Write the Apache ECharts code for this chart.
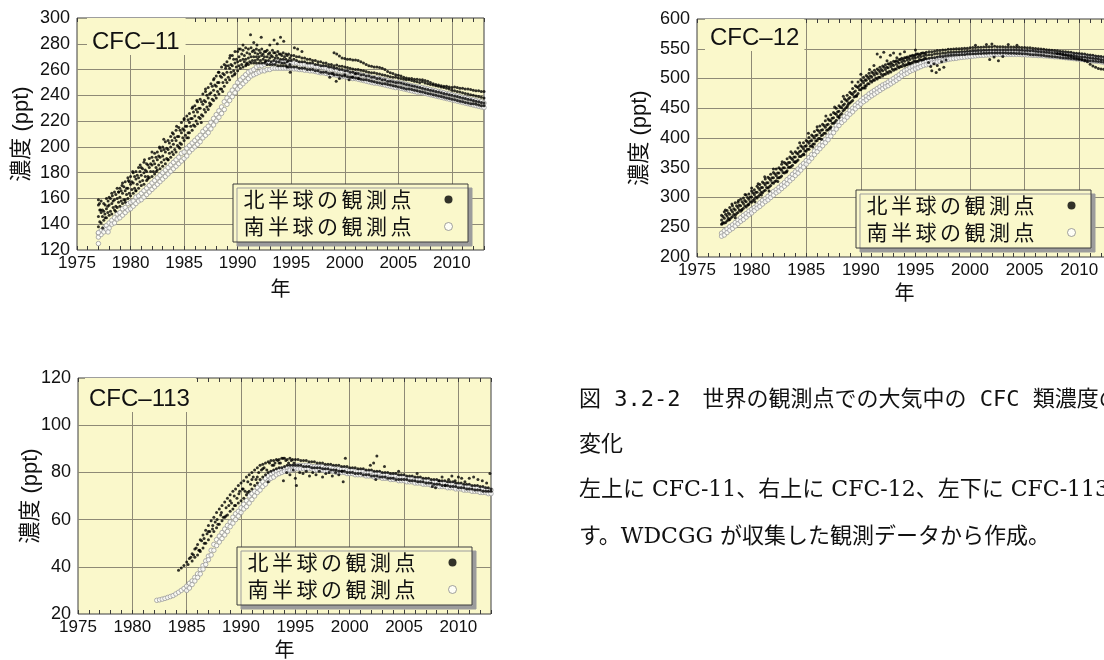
<!DOCTYPE html>
<html>
<head>
<meta charset="utf-8">
<script src="https://cdn.jsdelivr.net/npm/echarts@6/dist/echarts.min.js"></script>
<style>
  html, body { margin: 0; padding: 0; background: #ffffff; }
  #main { width: 1104px; height: 660px; }
</style>
</head>
<body>
<div id="main"></div>
<script>
// ---- Series names, axis ranges and caption text ----
const NH = '北半球の観測点';
const SH = '南半球の観測点';
const yearRange = [1975, 2013];          // x axis: min, max
const yearLabelStep = 5;                 // labelled years every 5
const cfc11Axis = [120, 300, 20];        // y: min, max, interval
const cfc12Axis = [200, 600, 50];
const cfc113Axis = [20, 120, 20];
const panelTitles = ['CFC–11', 'CFC–12', 'CFC–113'];
const yAxisName = '濃度 (ppt)';
const xAxisName = '年';
const captionLines = [
  '図 3.2-2　世界の観測点での大気中の CFC 類濃度の',
  '変化',
  '左上に CFC-11、右上に CFC-12、左下に CFC-113 を示しま',
  'す。WDCGG が収集した観測データから作成。'
];

// ---- CFC-11 (ppt): quarterly records, each with its start year ----
const cfc11_t0 = 1977.0;
const cfc11_nh_upper = [
  155,158,156,160, 161,164,165,168, 168,172,173,176, 177,180,181,184,
  184,188,187,191, 192,195,196,199, 200,204,205,208, 210,213,215,219,
  221,224,226,230, 232,235,237,241, 243,246,249,252, 255,258,262,264,
  266,269,271,274, 274,276,275,277, 276,277,275,276, 275,276,274,275,
  273,275,273,274, 272,273,272,272, 271,271,270,270, 269,269,268,268,
  267,267,266,266, 265,265,264,264, 263,263.5,262.5,262.5, 262,261.5,261,260.5,
  260,260,259.5,259, 258.5,258,257.5,257.5, 257,256.5,256,255.5, 255,254.5,254,254,
  253.5,253,252.5,252, 252,251.5,251,250.5, 250,250.5,249.5,249, 248.5,248,247.5,247,
  246.5,246,245.5,245, 244,243.5,243,242.5, 242,241.5,241,240.5, 240,239.5,239,238.5,
  238
];
const cfc11_nh_mid = [
  146,149,150,152, 155,156,159,160, 161,164,166,168, 171,172,175,176,
  178,180,181,184, 186,187,190,192, 193,196,198,200, 202,205,208,211,
  213,216,219,222, 224,227,230,233, 235,238,242,244, 247,250,254,256,
  258,261,263,265, 266,267,268,268, 269,270,270,270, 270,271,270,270,
  269,270,269,269, 268,268,268,267, 267,268,267,266, 266,266,265,265,
  265,264,264,263, 263,263,262,262, 261,261,260,260, 259,259,258,258,
  257,257,256,256, 255,255,254,254, 253,253,252,252, 251,251,250.5,250,
  250,249.5,249,248.5, 248,247.5,247,246.5, 246,245.5,245,244.5, 244,243.5,243,242.5,
  242,241.5,241,240.5, 240,239.5,239,238.5, 238,237.5,237,236.5, 236,235.5,235,234.5,
  234
];
const cfc11_nh_low = [
  138,141,143,145, 147,148,151,153, 154,156,159,160, 162,164,166,168,
  170,171,174,176, 177,179,182,183, 185,187,190,192, 194,196,200,202,
  205,207,211,213, 216,218,222,224, 227,229,233,236, 238,241,245,247,
  250,252,255,257, 259,261,262,263, 264,265,265,265, 265,265,265,264,
  264,264,264,263, 263,263,263,262, 262,262,262,261, 261,261,260,260,
  260,259,259,258, 258,258,257,257, 256,256,255.5,255, 255,254.5,254,254,
  253.5,253,252.5,252, 252,251.5,251,250.5, 250,249.5,249,249, 248.5,248,247.5,247,
  246.5,246,245.5,245, 245,244.5,244,243.5, 243,242.5,242,241.5, 241,240.5,240,239.5,
  239,238.5,238,237.5, 237,236.5,236,235.5, 235,234.5,234,233.5, 233.5,233,232.5,232,
  232
];
// flask stations sampled between the continuous records (1977-1995)
const cfc11_flask_t0 = 1977.125;
const cfc11_nh_flask_a = [
  151,151,155,154, 160,158,163,165, 166,169,168,173, 173,177,178,181,
  183,182,186,187, 189,192,193,197, 198,199,203,205, 207,208,213,214,
  216,221,222,227, 229,230,235,236, 240,241,247,248, 250,255,257,261,
  263,264,268,268, 270,272,271,273, 272,274,273,272, 273,272,274,272,
  271,273,271,272, 271,270,271,269
];
const cfc11_nh_flask_b = [
  142,146,145,149, 150,153,154,157, 158,159,163,164, 167,168,171,173,
  174,177,177,181, 181,184,186,188, 190,191,195,196, 198,201,203,207,
  209,211,216,217, 220,223,225,229, 231,234,237,240, 243,245,250,252,
  254,258,259,262, 263,264,266,265, 266,267,267,268, 267,268,267,267,
  266,267,266,266, 265,265,266,264
];
const cfc11_line_t0 = 1999.0;
const cfc11_nh_line = [
  273,272,270.5,269, 268.5,268,268,267.5, 267.5,267,266,265, 264,263,262.5,262,
  262,261.5,261,260, 258.5,257.5,257,256, 255.5,255,254,253.5, 253,253,252.5,252.5,
  252,252,251.5,251, 250,249,248.5,248, 247.5,247,247,246.5, 246,246.5,246,245.5,
  245.5,245,245,244.5, 244,243.5,243.5,243, 243
];
const cfc11_nh_scatter = [
  [1977.0,159],[1977.1,156],[1977.2,151],[1977.4,137],[1977.6,148],[1977.9,158],
  [1978.3,162],[1978.6,150],[1978.9,165],[1979.2,170],[1979.5,157],[1979.8,174],
  [1980.2,181],[1980.5,166],[1980.9,186],[1981.3,190],[1981.6,175],[1982.0,196],
  [1982.4,181],[1982.7,200],[1983.1,206],[1983.5,190],[1983.9,211],[1984.3,216],
  [1984.6,199],[1985.0,222],[1985.4,207],[1985.8,231],[1986.2,236],[1986.6,219],
  [1987.0,245],[1987.4,232],[1987.8,253],[1988.2,258],[1988.6,243],[1988.9,263],
  [1989.3,271],[1989.7,256],[1990.1,276],[1990.5,279],[1990.8,264],[1991.2,287],
  [1991.5,281],[1991.8,279],[1992.2,285],[1992.6,266],[1993.0,279],[1993.4,283],
  [1993.7,280],[1994.0,285],[1994.3,282],[1994.6,262],[1994.9,258],[1995.3,277],
  [1995.6,276],[1996.0,274],[1998.6,254],[1998.9,257],[1999.2,251],[1999.5,253],
  [2000.0,256],[2000.4,252],[2000.7,254],[2001.0,257],[2001.3,253]
];
const cfc11_sh_upper = [
  133,135,137,139, 141,143,145,148, 149,152,153,156, 157,158,161,162,
  164,166,168,170, 172,174,176,178, 180,182,184,186, 188,190,192,195,
  196,199,201,203, 205,207,209,212, 214,216,219,222, 225,228,231,235,
  238,241,244,247, 250,252,254,256, 258,259,260,262, 263,263,264,265,
  265,265,266,266, 266,266,266,265, 265,265,265,264.5, 264,264,263.5,263,
  263,262.5,262,262, 261.5,261,260.5,260, 260,259.5,259,258.5, 258.5,258,257.5,257,
  257,256.5,256,255.5, 255,254.5,254,253.5, 253.5,253,252.5,252, 251.5,251,250.5,250,
  250,249.5,249,248.5, 248,247.5,247,246.5, 246.5,246,245.5,245, 244.5,244,243.5,243,
  242.5,242,241.5,241, 240.5,240,239.5,239, 238.5,238,237.5,237, 236.5,236,235.5,235,
  234
];
const cfc11_sh_low = [
  130,132,134,136, 137,140,141,144, 145,147,149,151, 152,154,156,158,
  159,161,163,165, 167,169,171,173, 175,177,179,181, 183,185,187,189,
  191,193,196,198, 200,202,204,207, 209,211,214,217, 220,223,226,229,
  233,236,239,242, 245,247,249,251, 253,255,256,257, 258,259,259,260,
  260,261,261,261, 261,261,261,261, 261,260.5,260.5,260, 260,259.5,259.5,259,
  259,258.5,258,257.5, 257.5,257,256.5,256, 256,255.5,255,254.5, 254.5,254,253.5,253,
  253,252.5,252,251.5, 251,250.5,250,249.5, 249.5,249,248.5,248, 247.5,247,246.5,246,
  246,245.5,245,244.5, 244,243.5,243,242.5, 242.5,242,241.5,241, 240.5,240,239.5,239,
  238.5,238,237.5,237, 236.5,236,235.5,235, 234.5,234,233.5,233, 232.5,232,231.5,231,
  230.5
];
const cfc11_sh_scatter = [[1977.0,125],[1977.0,133.5],[1977.9,134]];

// ---- CFC-12 (ppt) ----
const cfc12_t0 = 1977.25;
const cfc12_nh_upper = [
  270,276,278, 283,286,291,292, 297,299,304,306, 311,313,319,322,
  326,331,334,339, 342,348,350,356, 359,365,368,374, 377,383,387,392,
  396,401,405,411, 414,420,423,429, 432,439,443,450, 454,461,466,472,
  477,483,488,494, 498,502,505,509, 511,514,516,519, 521,523,525,527,
  529,530,532,534, 535,536,538,539, 540,541,542,543, 544,545,545,546,
  547,547,548,548, 549,549,549.5,550, 550,550.5,551,551, 551.5,552,552,552.5,
  552.5,553,553,553.5, 553.5,554,553.5,553.5, 553.5,553,553,553, 553,552.5,552.5,552,
  552,551.5,551.5,551, 550.5,550,549.5,549, 548.5,548,547.5,547, 546.5,546,545.5,545,
  544.5,544,543,542.5, 542,541.5,541,540, 539.5,539,538,537.5, 537,536,535.5,535,
  534.5
];
const cfc12_nh_mid = [
  262,265,269, 272,276,279,283, 286,290,293,297, 301,305,309,313,
  317,321,325,329, 333,337,341,346, 350,355,359,364, 368,373,378,382,
  387,391,396,400, 405,409,414,418, 423,429,434,440, 445,451,457,462,
  468,473,479,485, 490,493,497,500, 503,506,508,511, 513,515,518,520,
  522,524,526,528, 529,531,532,534, 535,536,537,538, 539,540,540,541,
  542,542,543,543, 544,544,544.5,545, 545,545.5,545.5,546, 546,546.5,546.5,547,
  547,547.5,547.5,548, 548,548,548,548, 548,548,548,548, 548,548,547.5,547.5,
  547,547,546.5,546.5, 546,545.5,545,544.5, 544,543.5,543,542.5, 542,541.5,541,540.5,
  540,539,538.5,538, 537,536.5,536,535.5, 535,534,533.5,533, 532,531.5,531,530.5,
  530
];
const cfc12_nh_low = [
  255,257,261, 263,268,270,275, 277,282,284,289, 292,297,299,305,
  308,312,316,320, 324,328,333,336, 341,345,351,354, 359,363,369,373,
  378,381,387,390, 396,399,405,408, 414,419,425,430, 436,441,448,452,
  459,463,470,475, 481,484,488,491, 494,497,499,502, 504,507,509,511,
  514,516,518,520, 521,523,525,527, 528,529,531,532, 533,534,535,535,
  536,537,537,538, 538.5,539,539.5,540, 540,540.5,540.5,541, 541,541.5,541.5,542,
  542,542.5,542.5,543, 543,543,543,543, 543,543,542.5,542.5, 542.5,542,542,541.5,
  541.5,541,540.5,540, 540,539.5,539,538.5, 538,537.5,537,536.5, 536,535.5,535,534.5,
  534,533.5,533,532.5, 532,531.5,531,530.5, 530,529.5,529,528.5, 528,527.5,527,526.5,
  526
];
const cfc12_flask_t0 = 1977.375;
const cfc12_nh_flask_a = [
  268,272,274, 279,281,286,287, 293,295,300,301, 308,309,316,317,
  324,325,332,333, 340,341,348,350, 357,359,366,368, 375,377,385,386,
  394,395,403,404, 412,413,421,422, 430,433,441,444, 452,455,464,466,
  475,477,486,488, 496,497,503,504, 509,510,514,515, 519,519,524,524,
  528,528,532,532, 535,535,538,538, 541,540,543,542
];
const cfc12_nh_flask_b = [
  258,258,265, 266,272,273,279, 280,286,287,293, 295,301,302,309,
  311,317,318,325, 327,333,334,342, 343,351,352,360, 361,369,371,378,
  381,386,390,395, 399,404,408,413, 416,425,427,436, 439,446,451,458,
  461,469,472,481, 484,488,491,496, 497,501,502,507, 507,511,512,516,
  516,520,520,524, 523,527,526,530, 529,532,531,534
];
const cfc12_line_t0 = 2008.0;
const cfc12_nh_line = [
  542,541,540,539, 538,537,535.5,534.5, 533,532,530,528, 524,521,519,517,
  516,515.5,515,514.5, 514
];
const cfc12_nh_scatter = [
  [1977.3,256],[1977.6,279],[1977.9,262],[1978.2,289],[1978.5,266],[1978.8,295],
  [1979.1,279],[1979.4,305],[1979.7,288],[1980.0,316],[1980.3,293],[1980.6,323],
  [1980.9,304],[1981.2,335],[1981.6,311],[1982.0,348],[1982.4,327],[1982.8,360],
  [1983.2,343],[1983.6,377],[1984.0,360],[1984.4,392],[1984.8,372],[1985.2,408],
  [1985.6,385],[1986.0,419],[1986.4,398],[1986.8,437],[1987.2,417],[1987.6,452],
  [1988.0,434],[1988.4,470],[1988.8,455],[1989.2,494],[1989.6,470],[1990.0,507],
  [1990.4,484],[1990.8,515],[1991.2,522],[1991.5,541],[1991.8,536],[1992.1,544],
  [1992.4,530],[1992.7,539],[1993.0,543],[1993.3,535],[1993.6,541],[1994.0,545],
  [1994.4,525],[1995.0,548],[1996.2,527],[1996.4,520],[1996.5,513],[1996.7,525],
  [1996.9,510],[1997.0,522],[1997.2,515],[1997.4,528],[1997.6,519],[1997.8,531],
  [2000.5,556],[2001.5,557],[2001.8,532],[2002.0,558],[2002.2,536],[2002.6,530],
  [2003.0,537],[2003.5,557],[2004.3,556]
];
const cfc12_sh_upper = [
  240,244,247, 251,254,258,262, 266,270,273,277, 280,283,287,291,
  295,298,302,306, 310,313,317,321, 325,330,334,339, 343,348,353,357,
  362,367,372,378, 383,388,393,398, 403,409,415,421, 427,431,436,441,
  446,450,455,459, 463,467,470,474, 477,480,483,486, 489,491,494,497,
  500,503,506,510, 513,515,518,520, 522,524,526,528, 529,530,532,533,
  534,535,536,537, 538,539,539.5,540, 541,541.5,542,542.5, 543,543.5,544,544.5,
  545,545,545.5,545.5, 546,546,546.5,546.5, 546.5,546.5,546.5,546.5, 546.5,546.5,546.5,546,
  546,545.5,545.5,545, 545,544.5,544.5,544, 544,543.5,543,542.5, 542.5,542,541.5,541,
  540.5,540,539.5,539, 538.5,538,537.5,537, 536,535.5,535,534.5, 534,533,532.5,532,
  531
];
const cfc12_sh_low = [
  235,237,241, 245,248,252,256, 260,263,267,271, 274,278,282,285,
  289,293,296,300, 304,308,311,315, 319,323,328,332, 337,341,346,351,
  356,361,366,372, 377,382,387,392, 397,403,409,415, 421,426,430,435,
  440,444,449,453, 457,461,464,468, 471,474,477,480, 483,486,488,491,
  494,497,500,504, 507,509,512,514, 516,518,520,522, 523,524,526,527,
  528,529,530,531, 532,533,533.5,534, 535,535.5,536,536.5, 537,537.5,538,538.5,
  539,539,539.5,539.5, 540,540,540.5,540.5, 540.5,540.5,540.5,540.5, 540.5,540.5,540.5,540,
  540,539.5,539.5,539, 539,538.5,538.5,538, 538,537.5,537,536.5, 536.5,536,535.5,535,
  534.5,534,533.5,533, 532.5,532,531.5,531, 530,529.5,529,528.5, 528,527,526.5,526,
  525
];

// ---- CFC-113 (ppt) ----
const cfc113_nh_upper_t0 = 1984.25;
const cfc113_nh_upper = [
  38.5,39.5,40.5, 42,43.5,45.5,47.5, 49.5,51.5,53.5,55.5, 57.5,59.5,61,63,
  64.5,66,67.5,69, 70.5,72,73,74.5, 75.5,76.5,78,79, 80,81,82,83,
  83.5,84,84.5,85, 85,85.5,85.5,86, 86,85.5,86,85.5, 85.5,85.5,85,85,
  85,84.5,84.5,84.5, 84,84,84,83.5, 83.5,83.5,83,83, 83,82.5,82.5,82.5,
  82,82,82,81.5, 81.5,81.5,81,81, 81,80.5,80.5,80.5, 80,80,80,79.5,
  79.5,79.5,79,79, 79,78.5,78.5,78.5, 78,78,78,77.5, 77.5,77.5,77,77,
  77,76.5,76.5,76.5, 76,76,76,75.5, 75.5,75.5,75,75, 75,74.5,74.5,74.5,
  74,74,73.5,73.5, 73
];
const cfc113_nh_low_t0 = 1985.5;
const cfc113_nh_low = [
  42.5,44, 45,46.5,48,50, 51.5,53,55,56.5, 58,59.5,61,62, 63.5,64.5,66,67,
  68,69,70.5,72, 73,74.5,75.5,77, 78,79,80,80.5, 81,81.5,82,82,
  82.5,83,83,83, 83,83,83,82.5, 82.5,82.5,82,82, 82,82,81.5,81.5,
  81.5,81,81,81, 80.5,80.5,80.5,80, 80,80,79.5,79.5, 79.5,79,79,79,
  78.5,78.5,78.5,78, 78,78,77.5,77.5, 77.5,77,77,77, 77,77,76.5,76.5,
  76.5,76,76,76, 75.5,75.5,75.5,75, 75,75,74.5,74.5, 74.5,74,74,74,
  73.5,73.5,73.5,73, 73,73,72.5,72.5, 72.5,72,72,72, 72
];
const cfc113_flask_t0 = 1985.125;
const cfc113_nh_flask = [
  41,44,45,48, 47,51,50,54, 55,56,59,58, 62,61,65,66, 67,70,69,72,
  73,72,76,75, 78,77,80,81, 82,81,84,83, 84,85,84,86, 85,84,85,84
];
const cfc113_nh_scatter = [
  [1986.2,47],[1986.6,52],[1987.0,55],[1987.4,57.5],[1987.8,60],[1988.2,63],
  [1988.6,61.5],[1989.0,68],[1989.4,66],[1989.8,71],[1990.2,73],[1990.6,71.5],
  [1991.0,77],[1991.5,78],[1992.0,81.5],[1992.5,76],[1993.0,83],[1993.5,84],
  [1993.9,76.5],[1994.2,80],[1994.5,79],[1994.8,81],[1995.0,77.5],[1995.1,74.5],
  [1995.4,80],[1995.7,79.5],[1996.0,80.5],[1996.3,78.5],[1996.6,80],[1996.9,79],
  [1997.2,80.5],[1997.5,78],[1997.8,79.5],[1998.1,80],[1998.4,78.5],[1998.7,80],
  [1999.0,79],[1999.3,80.5],[1999.4,76],[1999.6,86],[2001.9,83],[2002.2,84],
  [2002.4,77],[2002.5,87],[2003.2,82.5],[2004.5,80.5],[2006.2,79.5],[2007.6,74],
  [2007.9,73.5],[2008.2,76.5],[2008.5,78],[2008.8,74.5],[2009.1,77],[2009.4,78.5],
  [2009.7,76.5],[2010.0,78],[2010.3,77.5],[2010.6,76],[2011.0,77.5],[2011.4,78],
  [2011.8,77],[2012.2,76.5],[2012.6,75.5],[2012.9,79.5]
];
const cfc113_sh_upper_t0 = 1982.25;
const cfc113_sh_upper = [
  25.8,26,26.3, 26.6,27,27.4,27.8, 28.5,29.2,30,30.8, 31.8,33,34,35.5,
  37,38.8,40.5,42.5, 44.5,47,49.5,51.5, 53,54.5,56,57.5, 59,61,62.5,63.5,
  65,66.5,68,70, 71,72,73.5,75, 76,77.5,78.5,79.5, 80,80.5,81,81.5,
  81.5,82,82.5,82.5, 82.5,83,83,83, 83,83,82.5,82.5, 82.5,82.5,82.5,82,
  82,82,82,81.5, 81.5,81.5,81.5,81, 81,81,80.5,80.5, 80.5,80.5,80,80,
  80,79.5,79.5,79.5, 79,79,79,78.5, 78.5,78.5,78,78, 78,77.5,77.5,77.5,
  77,77,77,76.5, 76.5,76.5,76,76, 76,75.5,75.5,75.5, 75,75,75,74.5,
  74.5,74.5,74,74, 74,73.5,73.5,73.5, 73,73,73,72.5, 72.5
];
const cfc113_sh_low_t0 = 1985.0;
const cfc113_sh_low = [
  30,31,32.5,34, 35.5,37,39,41, 43,45,47,49, 50.5,52,53.5,55,
  57,58.5,60,61.5, 63,64.5,65.5,67, 68.5,70,71.5,72.5, 74,75,76.5,77.5,
  78,79,79.5,80, 80.5,80.5,81,81, 81.5,81.5,81.5,81.5, 81.5,81.5,81.5,81,
  81,81,81,80.5, 80.5,80.5,80.5,80, 80,80,80,79.5, 79.5,79.5,79,79,
  79,79,78.5,78.5, 78.5,78,78,78, 77.5,77.5,77.5,77, 77,77,76.5,76.5,
  76.5,76,76,76, 75.5,75.5,75.5,75, 75,75,74.5,74.5, 74.5,74,74,74,
  73.5,73.5,73.5,73, 73,73,72.5,72.5, 72.5,72,72,72, 71.5,71.5,71.5,71,
  71
];

// ---- Helpers ----
const QUARTER = 0.25;
function quarterly(t0, values) {
  return values.map((v, i) => [t0 + i * QUARTER, v]);
}

const BG = '#faf8cb';
const GRID_LINE = '#8e8a76';
const FRAME = '#3c3c3c';
const TEXT = '#111111';
const SANS = "'Liberation Sans', 'Noto Sans CJK JP', sans-serif";
const CJK = "'Noto Sans CJK JP', sans-serif";

const panels = [
  {
    title: panelTitles[0], axis: cfc11Axis,
    grid: { left: 77, top: 18, width: 407, height: 232 },
    titleBox: { left: 87, top: 18, padding: [12, 6, 1, 5] },
    legendBox: { left: 233, top: 184 },
    yNameGap: 44, xNameGap: 28,
    nh: [quarterly(cfc11_t0, cfc11_nh_upper), quarterly(cfc11_t0, cfc11_nh_mid),
         quarterly(cfc11_t0, cfc11_nh_low), quarterly(cfc11_flask_t0, cfc11_nh_flask_a),
         quarterly(cfc11_flask_t0, cfc11_nh_flask_b), quarterly(cfc11_line_t0, cfc11_nh_line),
         cfc11_nh_scatter],
    sh: [quarterly(cfc11_t0, cfc11_sh_upper), quarterly(cfc11_t0, cfc11_sh_low), cfc11_sh_scatter]
  },
  {
    title: panelTitles[1], axis: cfc12Axis,
    grid: { left: 697, top: 19, width: 415, height: 238 },
    titleBox: { left: 705, top: 19, padding: [7, 5, 1, 5] },
    legendBox: { left: 856, top: 190 },
    yNameGap: 46, xNameGap: 25,
    nh: [quarterly(cfc12_t0, cfc12_nh_upper), quarterly(cfc12_t0, cfc12_nh_mid),
         quarterly(cfc12_t0, cfc12_nh_low), quarterly(cfc12_flask_t0, cfc12_nh_flask_a),
         quarterly(cfc12_flask_t0, cfc12_nh_flask_b), quarterly(cfc12_line_t0, cfc12_nh_line),
         cfc12_nh_scatter],
    sh: [quarterly(cfc12_t0, cfc12_sh_upper), quarterly(cfc12_t0, cfc12_sh_low)]
  },
  {
    title: panelTitles[2], axis: cfc113Axis,
    grid: { left: 78, top: 378, width: 413, height: 236 },
    titleBox: { left: 85, top: 378, padding: [9, 6, 1, 4] },
    legendBox: { left: 237, top: 547 },
    yNameGap: 36, xNameGap: 25,
    nh: [quarterly(cfc113_nh_upper_t0, cfc113_nh_upper), quarterly(cfc113_nh_low_t0, cfc113_nh_low),
         quarterly(cfc113_flask_t0, cfc113_nh_flask), cfc113_nh_scatter],
    sh: [quarterly(cfc113_sh_upper_t0, cfc113_sh_upper), quarterly(cfc113_sh_low_t0, cfc113_sh_low)]
  }
];

// Spread the legend characters apart and leave room before the marker
function spacedLabel(name) {
  return name.split('').map(ch => '{c|' + ch + '}').join('') + '{g| }';
}

const grids = [], xAxes = [], yAxes = [], titles = [], legends = [], series = [];

panels.forEach((p, gi) => {
  grids.push(Object.assign({
    show: true, backgroundColor: BG, borderColor: FRAME, borderWidth: 1,
    containLabel: false, outerBoundsMode: 'none'
  }, p.grid));

  // bottom axis: year ticks every year, labels every 5 years
  xAxes.push({
    type: 'value', gridIndex: gi, position: 'bottom',
    min: yearRange[0], max: yearRange[1], interval: 1,
    axisLine: { show: false },
    axisTick: { show: true, inside: true, length: 4, lineStyle: { color: FRAME, width: 1 } },
    axisLabel: {
      show: true, margin: 5, fontSize: 17, fontFamily: SANS, color: TEXT,
      formatter: v => (v % yearLabelStep === 0 && v < yearRange[1]) ? String(v) : ''
    },
    splitLine: { show: false },
    name: xAxisName, nameLocation: 'middle', nameGap: p.xNameGap, nameMoveOverlap: false,
    nameTextStyle: { fontSize: 20, fontFamily: CJK, color: TEXT }
  });
  // top axis: yearly ticks only
  xAxes.push({
    type: 'value', gridIndex: gi, position: 'top',
    min: yearRange[0], max: yearRange[1], interval: 1,
    axisLine: { show: false },
    axisTick: { show: true, inside: true, length: 4, lineStyle: { color: FRAME, width: 1 } },
    axisLabel: { show: false }, splitLine: { show: false }
  });
  // grid lines every 5 years
  xAxes.push({
    type: 'value', gridIndex: gi, position: 'bottom',
    min: yearRange[0], max: yearRange[1], interval: yearLabelStep,
    axisLine: { show: false }, axisTick: { show: false }, axisLabel: { show: false },
    splitLine: { show: true, showMinLine: false, showMaxLine: false, lineStyle: { color: GRID_LINE, width: 1 } }
  });

  yAxes.push({
    type: 'value', gridIndex: gi,
    min: p.axis[0], max: p.axis[1], interval: p.axis[2],
    axisLine: { show: false }, axisTick: { show: false },
    axisLabel: { margin: 7, fontSize: 18, fontFamily: SANS, color: TEXT },
    splitLine: { show: true, showMinLine: false, showMaxLine: false, lineStyle: { color: GRID_LINE, width: 1 } },
    name: yAxisName, nameLocation: 'middle', nameGap: p.yNameGap, nameMoveOverlap: false,
    nameTextStyle: { fontSize: 22, fontFamily: SANS, color: TEXT }
  });

  titles.push({
    text: p.title, left: p.titleBox.left, top: p.titleBox.top, padding: p.titleBox.padding,
    backgroundColor: BG, itemGap: 0,
    textStyle: { fontSize: 24, fontWeight: 'normal', fontFamily: SANS, color: TEXT, lineHeight: 24 }
  });

  legends.push({
    orient: 'vertical', align: 'right',
    left: p.legendBox.left, top: p.legendBox.top,
    padding: [4, 15, 4, 7], itemGap: 4, itemWidth: 16, itemHeight: 8,
    backgroundColor: BG, borderColor: FRAME, borderWidth: 1,
    shadowColor: '#9c9c9c', shadowBlur: 0, shadowOffsetX: 4, shadowOffsetY: 4,
    selectedMode: false,
    data: [
      { name: NH, icon: 'circle', itemStyle: { color: '#000000', borderWidth: 0 } },
      { name: SH, icon: 'circle', itemStyle: { color: '#ffffff', borderColor: '#8a8a8a', borderWidth: 1 } }
    ],
    formatter: spacedLabel,
    textStyle: {
      fontSize: 21, lineHeight: 23, fontFamily: CJK, color: TEXT,
      rich: {
        c: { width: 24.5, fontSize: 21, lineHeight: 23, fontFamily: CJK, color: TEXT },
        g: { width: 24, fontSize: 21, lineHeight: 23 }
      }
    }
  });

  p.sh.forEach(d => series.push({
    type: 'scatter', name: SH, xAxisIndex: gi * 3, yAxisIndex: gi, data: d,
    symbol: 'circle', symbolSize: 4.5, z: 2,
    itemStyle: { color: '#ffffff', borderColor: '#9a9a9a', borderWidth: 1 }
  }));
  p.nh.forEach(d => series.push({
    type: 'scatter', name: NH, xAxisIndex: gi * 3, yAxisIndex: gi, data: d,
    symbol: 'circle', symbolSize: 3, z: 3,
    itemStyle: { color: '#000000' }
  }));
});

const captionStyles = [
  { y: 400, font: '22px "DejaVu Sans Mono", "Noto Sans CJK JP"' },
  { y: 443, font: '22px "Noto Sans CJK JP"' },
  { y: 490, font: '22px "DejaVu Serif", "Noto Sans CJK JP"' },
  { y: 537, font: '22px "DejaVu Serif", "Noto Sans CJK JP"' }
];

const chart = echarts.init(document.getElementById('main'), null, { renderer: 'canvas' });
chart.setOption({
  animation: false,
  backgroundColor: '#ffffff',
  grid: grids,
  xAxis: xAxes,
  yAxis: yAxes,
  title: titles,
  legend: legends,
  series: series,
  graphic: {
    elements: captionLines.map((line, i) => ({
      type: 'text', x: 579, y: captionStyles[i].y, silent: true,
      style: { text: line, font: captionStyles[i].font, fill: TEXT, verticalAlign: 'middle', align: 'left' }
    }))
  }
});
</script>
</body>
</html>
